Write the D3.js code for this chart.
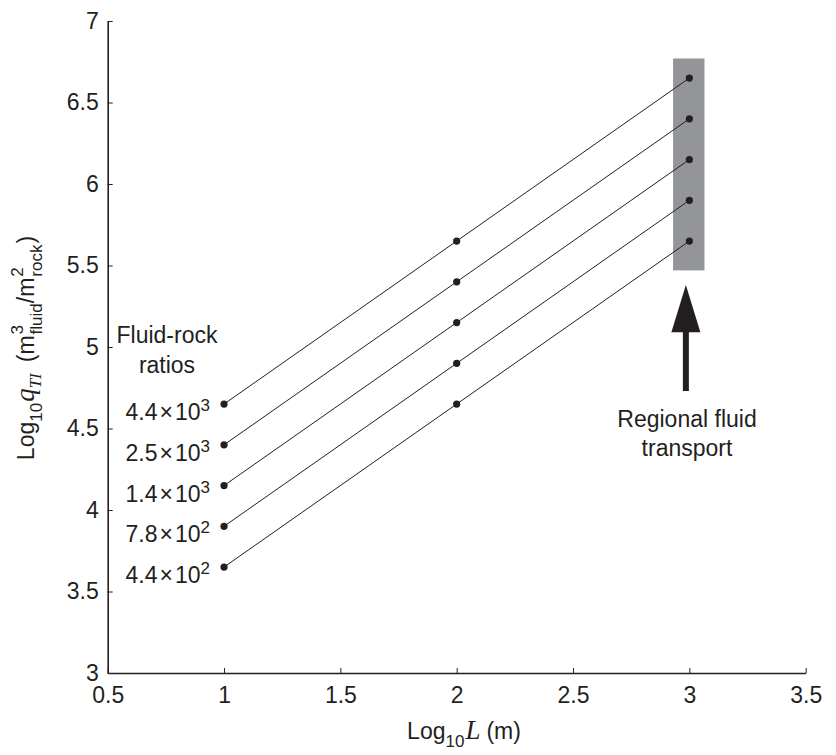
<!DOCTYPE html>
<html>
<head>
<meta charset="utf-8">
<script src="https://cdn.jsdelivr.net/npm/d3@7/dist/d3.min.js"></script>
<style>
  html, body { margin: 0; padding: 0; background: #ffffff; }
  svg { display: block; }
</style>
</head>
<body>
<svg id="chart" width="836" height="755"></svg>
<script>
// Log10 of length scale (m) at which each flux is evaluated
const logL = [1, 2, 3];
// Log10 time-integrated fluid flux for each fluid-rock ratio
const seriesQ = [
  [4.65, 5.65, 6.65],
  [4.40, 5.40, 6.40],
  [4.15, 5.15, 6.15],
  [3.90, 4.90, 5.90],
  [3.65, 4.65, 5.65]
];
// Fluid-rock ratio labels: mantissa x 10^exponent
const ratioMantissa = ["4.4", "2.5", "1.4", "7.8", "4.4"];
const ratioExponent = ["3", "3", "3", "2", "2"];

const xTicks = [0.5, 1, 1.5, 2, 2.5, 3, 3.5];
const yTicks = [3, 3.5, 4, 4.5, 5, 5.5, 6, 6.5, 7];

// Regional transport band (data units) and the arrow under it
const bandX = [2.93, 3.065];
const bandY = [5.47, 6.77];
const arrowX = 2.985;
const arrowY = [4.73, 5.09, 5.38]; // shaft base, head base, tip
const regionalLines = ["Regional fluid", "transport"];

const SANS = "'Liberation Sans', Arial, Helvetica, sans-serif";
const SERIF = "'Liberation Serif', 'Times New Roman', serif";
const INK = "#231f20";

const svg = d3.select("#chart");

const x = d3.scaleLinear().domain([0.5, 3.5]).range([107.7, 805.7]);
const y = d3.scaleLinear().domain([3, 7]).range([673, 21]);

// Lays out mixed-size / sub / superscript runs in a single line
function richText(parent, segs, anchor) {
  const g = parent.append("g");
  let cursor = 0, prevStart = 0;
  const nodes = [];
  segs.forEach(s => {
    const start = s.overlap ? prevStart : cursor + (s.gap || 0);
    const t = g.append("text")
      .attr("x", start)
      .attr("y", s.shift || 0)
      .attr("font-family", s.serif ? SERIF : SANS)
      .attr("font-style", s.italic ? "italic" : "normal")
      .attr("font-size", s.size)
      .attr("fill", INK)
      .text(s.text);
    const w = t.node().getComputedTextLength();
    cursor = s.overlap ? Math.max(cursor, start + w) : start + w;
    prevStart = start;
    nodes.push(t);
  });
  const off = anchor === "middle" ? -cursor / 2 : anchor === "end" ? -cursor : 0;
  nodes.forEach(t => t.attr("x", +t.attr("x") + off));
  return g;
}

// Regional band
svg.append("rect")
  .attr("x", x(bandX[0]))
  .attr("y", y(bandY[1]))
  .attr("width", x(bandX[1]) - x(bandX[0]))
  .attr("height", y(bandY[0]) - y(bandY[1]))
  .attr("fill", "#939598");

// Axes
const xAxis = d3.axisBottom(x).tickValues(xTicks)
  .tickSizeInner(-5).tickSizeOuter(0).tickPadding(14)
  .tickFormat(d3.format("~g"));
const yAxis = d3.axisLeft(y).tickValues(yTicks)
  .tickSizeInner(-5).tickSizeOuter(0).tickPadding(9)
  .tickFormat(d3.format("~g"));

const gx = svg.append("g").attr("transform", `translate(0,${y(3)})`).call(xAxis);
const gy = svg.append("g").attr("transform", `translate(${x(0.5)},0)`).call(yAxis);
[gx, gy].forEach(g => {
  g.select(".domain").attr("stroke", INK).attr("stroke-width", 1.6);
  g.selectAll(".tick line").attr("stroke", INK).attr("stroke-width", 1);
  g.selectAll(".tick text")
    .attr("font-family", SANS).attr("font-size", 23).attr("fill", INK);
});

// Series lines and points
const line = d3.line().x((d, i) => x(logL[i])).y(d => y(d));
const series = svg.append("g");
seriesQ.forEach(vals => {
  series.append("path")
    .attr("d", line(vals))
    .attr("fill", "none")
    .attr("stroke", INK)
    .attr("stroke-width", 1);
  series.selectAll(null).data(vals).enter().append("circle")
    .attr("cx", (d, i) => x(logL[i]))
    .attr("cy", d => y(d))
    .attr("r", 3.6)
    .attr("fill", INK);
});

// Ratio labels next to the first point of each line
seriesQ.forEach((vals, k) => {
  const g = richText(svg, [
    { text: ratioMantissa[k], size: 23 },
    { text: "\u00d7", size: 23, gap: 2 },
    { text: "10", size: 23, gap: 2 },
    { text: ratioExponent[k], size: 17, shift: -9 }
  ], "end");
  g.attr("transform", `translate(${x(logL[0]) - 14},${y(vals[0]) + 16})`);
});

// Legend heading
svg.append("text")
  .attr("x", 167).attr("y", 343)
  .attr("text-anchor", "middle")
  .attr("font-family", SANS).attr("font-size", 23).attr("fill", INK)
  .text("Fluid-rock");
svg.append("text")
  .attr("x", 167).attr("y", 373)
  .attr("text-anchor", "middle")
  .attr("font-family", SANS).attr("font-size", 23).attr("fill", INK)
  .text("ratios");

// Arrow pointing up to the regional band
const ax = x(arrowX);
svg.append("rect")
  .attr("x", ax - 3).attr("y", y(arrowY[1]) - 1)
  .attr("width", 6).attr("height", y(arrowY[0]) - y(arrowY[1]) + 1)
  .attr("fill", INK);
svg.append("path")
  .attr("d", `M${ax},${y(arrowY[2])} L${ax + 14.5},${y(arrowY[1])} L${ax - 14.5},${y(arrowY[1])} Z`)
  .attr("fill", INK);

regionalLines.forEach((t, i) => {
  svg.append("text")
    .attr("x", 687).attr("y", 427 + i * 29)
    .attr("text-anchor", "middle")
    .attr("font-family", SANS).attr("font-size", 23).attr("fill", INK)
    .text(t);
});

// X axis title
richText(svg, [
  { text: "Log", size: 23 },
  { text: "10", size: 17, shift: 8 },
  { text: "L", size: 27, serif: true, italic: true, gap: 1 },
  { text: "(m)", size: 23, gap: 6 }
], "middle").attr("transform", "translate(464,739)");

// Y axis title
richText(svg, [
  { text: "Log", size: 23 },
  { text: "10", size: 17, shift: 8 },
  { text: "q", size: 27, serif: true, italic: true, gap: 1 },
  { text: "TI", size: 17, serif: true, italic: true, shift: 7 },
  { text: "(m", size: 23, gap: 11 },
  { text: "3", size: 17, shift: -11, gap: 1 },
  { text: "fluid", size: 17, shift: 8, overlap: true },
  { text: "/m", size: 23 },
  { text: "2", size: 17, shift: -11, gap: 1 },
  { text: "rock", size: 17, shift: 8, overlap: true },
  { text: ")", size: 23, gap: 1 }
], "middle").attr("transform", "translate(34,348) rotate(-90)");
</script>
</body>
</html>
